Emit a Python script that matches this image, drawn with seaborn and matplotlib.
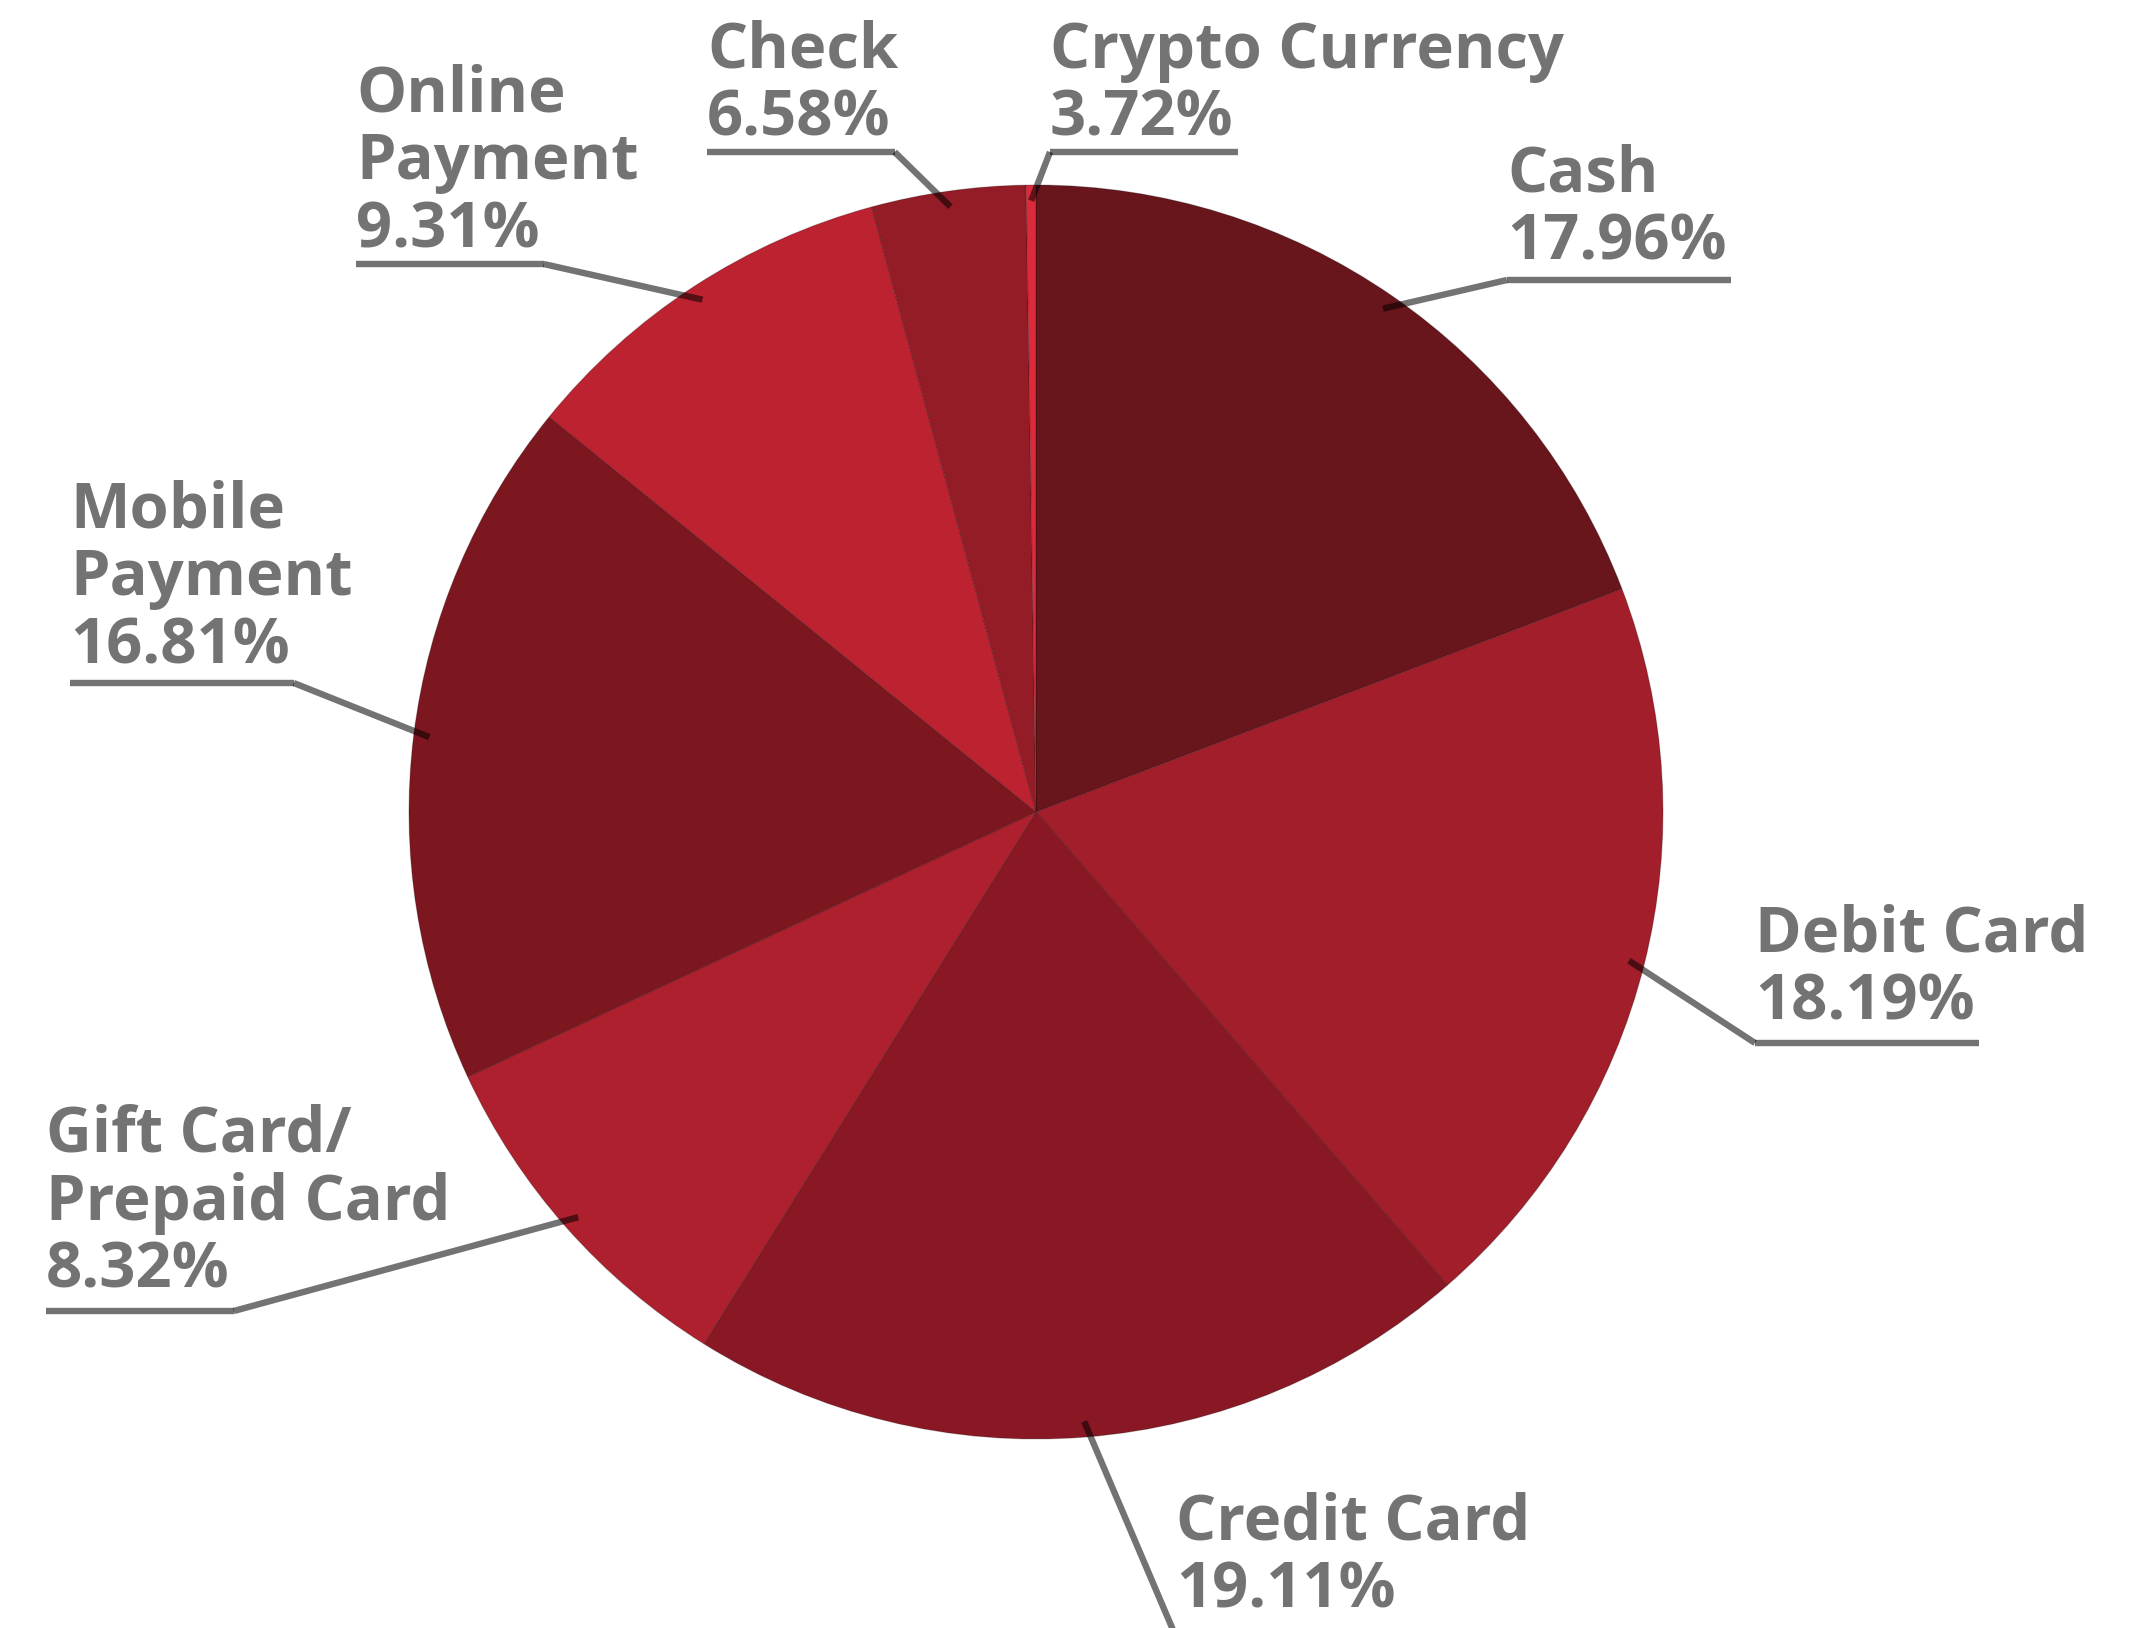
import matplotlib
matplotlib.use("Agg")
import matplotlib.pyplot as plt
import seaborn as sns
import numpy as np

# ---- data ----
categories = ["Cash", "Debit Card", "Credit Card", "Gift Card/\nPrepaid Card",
              "Mobile\nPayment", "Online\nPayment", "Check", "Crypto Currency"]
label_pcts = ["17.96%", "18.19%", "19.11%", "8.32%", "16.81%", "9.31%", "6.58%", "3.72%"]
# slice sizes as drawn in the picture (shares of the circle, %)
slice_shares = [19.21, 19.40, 20.27, 9.18, 17.79, 9.93, 3.97, 0.25]
slice_colors = ["#68151c", "#a21e2a", "#891824", "#ae202e",
                "#7c171f", "#bc2230", "#931c27", "#dc2a3a"]

# ---- layout (pixels, origin top-left) ----
W, H = 2131, 1628
pie_cx, pie_cy, pie_r = 1036, 812, 627
label_x = [1507, 1755, 1176, 46, 70, 356, 707, 1050]
label_first_baseline = [192, 952, 1539, 1152, 527, 111, 68, 68]
underline_y = [280, 1043, 1637, 1311, 683, 264, 152, 152]
label_side = ["right", "right", "right", "left", "left", "left", "left", "right"]
line_step = 68

sns.set_theme(style="white")
plt.rcParams['font.family'] = ['Open Sans', 'DejaVu Sans']

fig = plt.figure(figsize=(W / 100, H / 100), dpi=100)
ax = fig.add_axes([0, 0, 1, 1])

wedges, _ = ax.pie(slice_shares, colors=sns.color_palette(slice_colors),
                   startangle=90, counterclock=False,
                   center=(pie_cx, H - pie_cy), radius=pie_r, frame=True,
                   wedgeprops=dict(edgecolor=(0, 0, 0, 0.22), linewidth=0.8))
ax.set_xlim(0, W)
ax.set_ylim(0, H)
ax.set_aspect('equal', adjustable='box')
ax.axis('off')

text_color = "#737373"
fig.canvas.draw()
renderer = fig.canvas.get_renderer()

for i, (cat, pct) in enumerate(zip(categories, label_pcts)):
    lines = cat.split("\n") + [pct]
    last = None
    for j, ln in enumerate(lines):
        last = ax.text(label_x[i], H - (label_first_baseline[i] + j * line_step), ln,
                       ha='left', va='baseline', fontsize=45.5, fontweight='bold',
                       color=text_color, zorder=5)
    bb = last.get_window_extent(renderer=renderer)
    x0 = label_x[i]
    x1 = label_x[i] + bb.width + 4
    uy = H - underline_y[i]
    w = wedges[i]
    mid = np.deg2rad((w.theta1 + w.theta2) / 2)
    px = pie_cx + 0.975 * pie_r * np.cos(mid)
    py = (H - pie_cy) + 0.975 * pie_r * np.sin(mid)
    elbow = x0 if label_side[i] == "right" else x1
    ax.plot([x0, x1], [uy, uy], color='black', alpha=0.55, lw=4.6,
            solid_capstyle='butt', zorder=4)
    ax.plot([elbow, px], [uy, py], color='black', alpha=0.55, lw=4.6,
            solid_capstyle='butt', zorder=4)

fig.savefig("out.png", dpi=100, facecolor="white")
